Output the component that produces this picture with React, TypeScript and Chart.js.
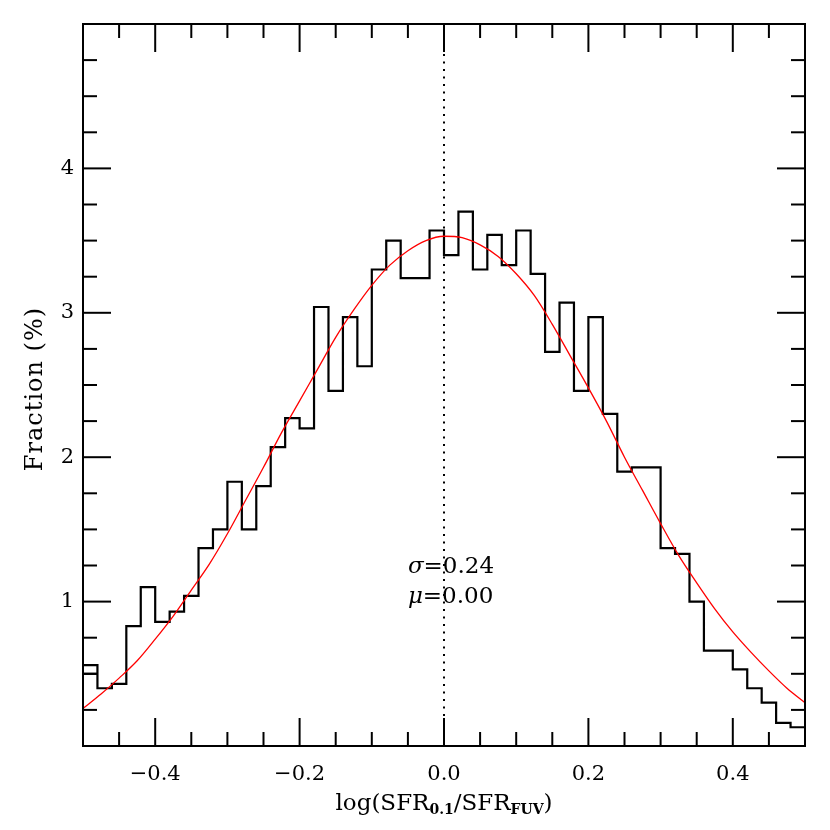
import React, { useEffect, useRef } from 'react';
import { Chart, registerables } from 'chart.js';

Chart.register(...registerables);

// Histogram bin edges (log SFR ratio) and fraction (%) in each bin
const binEdges = [
  -0.5, -0.48, -0.46, -0.44, -0.42, -0.4, -0.38, -0.36, -0.34, -0.32,
  -0.3, -0.28, -0.26, -0.24, -0.22, -0.2, -0.18, -0.16, -0.14, -0.12,
  -0.1, -0.08, -0.06, -0.04, -0.02, 0.0, 0.02, 0.04, 0.06, 0.08,
  0.1, 0.12, 0.14, 0.16, 0.18, 0.2, 0.22, 0.24, 0.26, 0.28,
  0.3, 0.32, 0.34, 0.36, 0.38, 0.4, 0.42, 0.44, 0.46, 0.48, 0.5,
];
const fractions = [
  0.56, 0.4, 0.43, 0.83, 1.1, 0.86, 0.93, 1.04, 1.37, 1.5,
  1.83, 1.5, 1.8, 2.07, 2.27, 2.2, 3.04, 2.46, 2.97, 2.63,
  3.3, 3.5, 3.24, 3.24, 3.57, 3.4, 3.7, 3.3, 3.54, 3.33,
  3.57, 3.27, 2.73, 3.07, 2.46, 2.97, 2.3, 1.9, 1.93, 1.93,
  1.37, 1.33, 1.0, 0.66, 0.66, 0.53, 0.4, 0.3, 0.16, 0.13,
];
// short extra step drawn in the first bin
const firstBinStepX = [-0.5, -0.48];
const firstBinStepY = [0.5, 0.5];

// Gaussian fit (red curve)
const fitX = [
  -0.5, -0.475, -0.45, -0.425, -0.4, -0.375, -0.35, -0.325, -0.3, -0.275,
  -0.25, -0.225, -0.2, -0.175, -0.15, -0.125, -0.1, -0.075, -0.05, -0.025,
  0.0, 0.025, 0.05, 0.075, 0.1, 0.125, 0.15, 0.175, 0.2, 0.225,
  0.25, 0.275, 0.3, 0.325, 0.35, 0.375, 0.4, 0.425, 0.45, 0.475, 0.5,
];
const fitY = [
  0.26, 0.36, 0.47, 0.59, 0.74, 0.9, 1.08, 1.26, 1.47, 1.7,
  1.93, 2.17, 2.39, 2.61, 2.83, 3.02, 3.19, 3.33, 3.43, 3.5,
  3.53, 3.52, 3.47, 3.39, 3.27, 3.12, 2.92, 2.7, 2.48, 2.25,
  2.0, 1.77, 1.54, 1.32, 1.13, 0.95, 0.79, 0.65, 0.52, 0.4, 0.3,
];

const meanLine = 0.0;
const xMajorTicks = [-0.4, -0.2, 0.0, 0.2, 0.4];
const xMinorTicks = [-0.45, -0.35, -0.3, -0.25, -0.15, -0.1, -0.05, 0.05, 0.1, 0.15, 0.25, 0.3, 0.35, 0.45];
const yMajorTicks = [1, 2, 3, 4];
const yMinorTicks = [
  0.25, 0.5, 0.75, 1.25, 1.5, 1.75, 2.25, 2.5, 2.75, 3.25, 3.5, 3.75, 4.25, 4.5, 4.75,
];
const sigmaText = '0.24';
const muText = '0.00';

const FONT = '"DejaVu Serif", serif';

const decorPlugin = {
  id: 'decor',
  afterDraw(chart: any) {
    const { ctx, chartArea: ca, scales } = chart;
    const xs = scales.x;
    const ys = scales.y;
    ctx.save();
    ctx.strokeStyle = '#000';
    ctx.lineWidth = 2;
    ctx.lineCap = 'butt';
    const seg = (x1: number, y1: number, x2: number, y2: number) => {
      ctx.beginPath();
      ctx.moveTo(x1, y1);
      ctx.lineTo(x2, y2);
      ctx.stroke();
    };
    const xt = (v: number, len: number) => {
      const p = xs.getPixelForValue(v);
      seg(p, ca.bottom, p, ca.bottom - len);
      seg(p, ca.top, p, ca.top + len);
    };
    const yt = (v: number, len: number) => {
      const p = ys.getPixelForValue(v);
      seg(ca.left, p, ca.left + len, p);
      seg(ca.right, p, ca.right - len, p);
    };
    xMajorTicks.forEach((v) => xt(v, 28));
    xMinorTicks.forEach((v) => xt(v, 14));
    yMajorTicks.forEach((v) => yt(v, 28));
    yMinorTicks.forEach((v) => yt(v, 14));
    ctx.strokeRect(ca.left, ca.top, ca.right - ca.left, ca.bottom - ca.top);

    ctx.fillStyle = '#000';
    ctx.textBaseline = 'alphabetic';
    // annotations
    const ax = xs.getPixelForValue(-0.05);
    const drawAnn = (sym: string, val: string, yv: number) => {
      const by = ys.getPixelForValue(yv);
      ctx.font = `italic 23px ${FONT}`;
      ctx.textAlign = 'left';
      ctx.fillText(sym, ax, by);
      const w = ctx.measureText(sym).width;
      ctx.font = `23px ${FONT}`;
      ctx.fillText('=' + val, ax + w, by);
    };
    drawAnn('σ', sigmaText, 1.195);
    drawAnn('μ', muText, 0.99);

    // x title with subscripts
    const parts: [string, boolean][] = [
      ['log(SFR', false],
      ['0.1', true],
      ['/SFR', false],
      ['FUV', true],
      [')', false],
    ];
    const mainF = `23px ${FONT}`;
    const subF = `bold 14px ${FONT}`;
    let total = 0;
    parts.forEach(([t, s]) => {
      ctx.font = s ? subF : mainF;
      total += ctx.measureText(t).width;
    });
    let cx = (ca.left + ca.right) / 2 - total / 2;
    const base = 810;
    parts.forEach(([t, s]) => {
      ctx.font = s ? subF : mainF;
      ctx.textAlign = 'left';
      ctx.fillText(t, cx, s ? base + 4 : base);
      cx += ctx.measureText(t).width;
    });

    // y title
    ctx.save();
    ctx.translate(42, (ca.top + ca.bottom) / 2 + 4);
    ctx.rotate(-Math.PI / 2);
    ctx.font = `24px ${FONT}`;
    try {
      (ctx as any).letterSpacing = '1px';
    } catch (e) {}
    ctx.textAlign = 'center';
    ctx.fillText('Fraction (%)', 0, 0);
    ctx.restore();

    ctx.restore();
  },
};

export default function App() {
  const ref = useRef<HTMLCanvasElement>(null);
  useEffect(() => {
    if (!ref.current) return;
    const histData = binEdges.map((x, i) => ({
      x,
      y: i < fractions.length ? fractions[i] : fractions[fractions.length - 1],
    }));
    const chart = new Chart(ref.current, {
      type: 'line',
      data: {
        datasets: [
          {
            label: 'fit',
            data: fitX.map((x, i) => ({ x, y: fitY[i] })),
            borderColor: '#ff0000',
            borderWidth: 1.3,
            pointRadius: 0,
            cubicInterpolationMode: 'monotone',
            fill: false,
          },
          {
            label: 'hist',
            data: histData,
            borderColor: '#000',
            borderWidth: 2.2,
            pointRadius: 0,
            stepped: 'before',
            fill: false,
          },
          {
            label: 'firstStep',
            data: firstBinStepX.map((x, i) => ({ x, y: firstBinStepY[i] })),
            borderColor: '#000',
            borderWidth: 2.2,
            pointRadius: 0,
            fill: false,
          },
          {
            label: 'mean',
            data: [
              { x: meanLine, y: 0 },
              { x: meanLine, y: 5 },
            ],
            borderColor: '#000',
            borderWidth: 2,
            borderDash: [2, 5.5],
            pointRadius: 0,
            fill: false,
          },
        ],
      },
      options: {
        animation: false,
        responsive: false,
        devicePixelRatio: 1,
        layout: { padding: { left: 0, top: 24, right: 25, bottom: 0 } },
        plugins: { legend: { display: false }, tooltip: { enabled: false } },
        scales: {
          x: {
            type: 'linear',
            min: -0.5,
            max: 0.5,
            grid: { display: false, drawTicks: false },
            border: { display: false },
            afterFit: (s: any) => {
              s.height = 84;
            },
            afterBuildTicks: (s: any) => {
              s.ticks = xMajorTicks.map((v) => ({ value: v }));
            },
            ticks: {
              autoSkip: false,
              maxRotation: 0,
              padding: 16,
              color: '#000',
              font: { family: FONT, size: 21 },
              callback: (v: any) => {
                const n = Number(v);
                const s = Math.abs(n).toFixed(1);
                return n < -1e-9 ? '\u2212' + s : s;
              },
            },
          },
          y: {
            type: 'linear',
            min: 0,
            max: 5,
            grid: { display: false, drawTicks: false },
            border: { display: false },
            afterFit: (s: any) => {
              s.width = 83;
            },
            afterBuildTicks: (s: any) => {
              s.ticks = yMajorTicks.map((v) => ({ value: v }));
            },
            ticks: {
              autoSkip: false,
              padding: 9,
              color: '#000',
              font: { family: FONT, size: 21 },
              callback: (v: any) => String(v),
            },
          },
        },
      },
      plugins: [decorPlugin],
    } as any);
    return () => chart.destroy();
  }, []);
  return (
    <div style={{ position: 'absolute', left: 0, top: 0, width: 830, height: 830, background: '#fff' }}>
      <canvas ref={ref} width={830} height={830} style={{ display: 'block' }} />
    </div>
  );
}
